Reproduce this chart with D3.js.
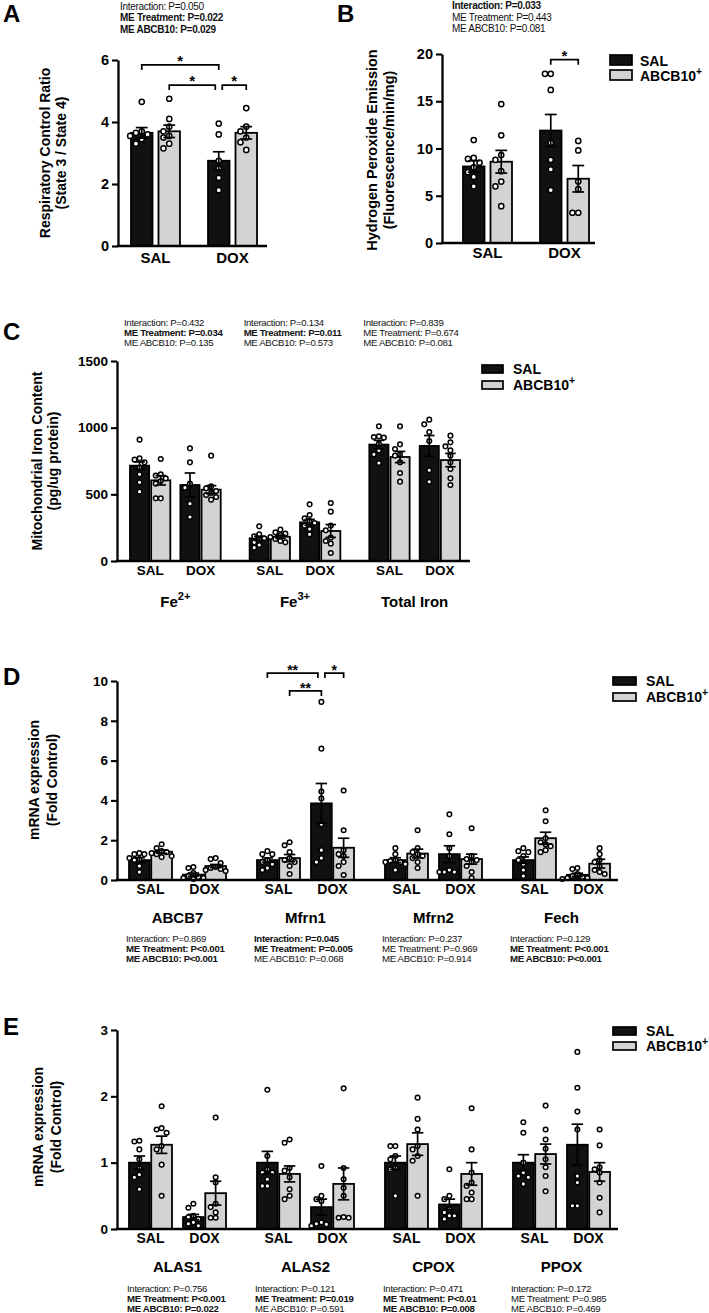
<!DOCTYPE html>
<html><head><meta charset="utf-8">
<script src="https://cdn.jsdelivr.net/npm/d3@7"></script>
<style>
body{margin:0;background:#fff;}
svg{display:block;font-family:"Liberation Sans",Arial,Helvetica,sans-serif;}
</style></head><body>
<svg id="chart" width="709" height="1313"></svg>
<script>
// ===================== DATA =====================
const treatments = ["SAL", "DOX"];
const vectorNames = ["SAL", "ABCB10+"];

// Panel A – Respiratory control ratio  [treatment][vector]
const rcrMean = [[3.65, 3.70], [2.75, 3.65]];
const rcrSem = [[0.17, 0.20], [0.29, 0.20]];
const rcrPoints = [
  [[4.65, 3.7, 3.65, 3.6, 3.55, 3.45, 3.3], [4.75, 4.1, 3.85, 3.7, 3.55, 3.5, 3.3, 3.15]],
  [[3.95, 3.6, 2.75, 2.5, 2.2, 1.8], [4.45, 3.85, 3.7, 3.5, 3.35, 3.1]]
];
const rcrTicks = [0, 2, 4, 6];
const rcrStats = [["Interaction: P=0.050", 0], ["ME Treatment: P=0.022", 1], ["ME ABCB10: P=0.029", 1]];
const rcrBrackets = [
  {from: [0, 0, 0], to: [0, 1, 0], level: 5.84, label: "*"},
  {from: [0, 0, 1], to: [0, 1, 0], level: 5.19, label: "*"},
  {from: [0, 1, 0], to: [0, 1, 1], level: 5.19, label: "*"}
];

// Panel B – Hydrogen peroxide emission
const h2o2Mean = [[8.1, 8.6], [11.9, 6.8]];
const h2o2Sem = [[0.6, 1.2], [1.7, 1.4]];
const h2o2Points = [
  [[10.9, 9.0, 8.9, 8.5, 8.0, 7.5, 7.0, 6.0], [14.7, 11.4, 9.3, 8.8, 7.6, 6.5, 6.0, 3.9]],
  [[17.9, 17.9, 16.2, 10.6, 8.8, 7.8, 5.6], [10.8, 9.8, 6.5, 5.7, 3.2, 3.2]]
];
const h2o2Ticks = [0, 5, 10, 15, 20];
const h2o2Stats = [["Interaction: P=0.033", 1], ["ME Treatment: P=0.443", 0], ["ME ABCB10: P=0.081", 0]];
const h2o2Brackets = [{from: [0, 1, 0], to: [0, 1, 1], level: 19.4, label: "*"}];

// Panel C – Mitochondrial iron content  [form][treatment][vector]
const ironForms = ["Fe2+", "Fe3+", "Total Iron"];
const ironMean = [
  [[715, 605], [570, 535]],
  [[170, 182], [290, 225]],
  [[873, 780], [863, 757]]
];
const ironSem = [
  [[28, 35], [90, 30]],
  [[15, 12], [22, 48]],
  [[32, 42], [78, 50]]
];
const ironPoints = [
  [[[910, 770, 760, 740, 700, 650, 590, 520], [765, 650, 640, 620, 600, 580, 470, 470]],
   [[845, 740, 580, 550, 430, 330], [790, 560, 545, 525, 510, 495, 480, 460]]],
  [[[260, 200, 185, 170, 160, 140, 120, 100], [235, 215, 205, 195, 180, 165, 150, 140]],
   [[425, 345, 320, 300, 285, 265, 240, 200], [435, 370, 265, 230, 175, 150, 130, 60]]],
  [[[1010, 935, 930, 925, 880, 830, 800, 735], [1010, 875, 840, 800, 790, 740, 660, 595]],
   [[1060, 1025, 968, 900, 681, 594], [940, 890, 860, 830, 790, 740, 690, 620, 570]]]
];
const ironTicks = [0, 500, 1000, 1500];
const ironStats = [
  [["Interaction: P=0.432", 0], ["ME Treatment: P=0.034", 1], ["ME ABCB10: P=0.135", 0]],
  [["Interaction: P=0.134", 0], ["ME Treatment: P=0.011", 1], ["ME ABCB10: P=0.573", 0]],
  [["Interaction: P=0.839", 0], ["ME Treatment: P=0.674", 0], ["ME ABCB10: P=0.081", 0]]
];

// Panel D – mRNA expression, iron transport genes
const mrnaGenes = ["ABCB7", "Mfrn1", "Mfrn2", "Fech"];
const mrnaMean = [
  [[1.00, 1.42], [0.27, 0.70]],
  [[1.00, 1.10], [3.85, 1.62]],
  [[1.00, 1.33], [1.30, 1.05]],
  [[1.00, 2.10], [0.26, 0.82]]
];
const mrnaSem = [
  [[0.12, 0.08], [0.08, 0.08]],
  [[0.11, 0.18], [1.00, 0.48]],
  [[0.12, 0.22], [0.42, 0.25]],
  [[0.16, 0.30], [0.08, 0.22]]
];
const mrnaPoints = [
  [[[1.35, 1.3, 1.3, 1.1, 1.05, 1.0, 0.7, 0.4], [1.8, 1.6, 1.45, 1.4, 1.35, 1.3, 1.2, 1.15]],
   [[0.65, 0.6, 0.35, 0.2, 0.15, 0.1, 0.1, 0.05], [1.1, 1.05, 0.85, 0.65, 0.6, 0.55, 0.5, 0.45]]],
  [[[1.45, 1.3, 1.3, 1.0, 0.9, 0.8, 0.6, 0.5], [1.9, 1.75, 1.4, 1.1, 1.0, 0.9, 0.7, 0.3]],
   [[8.95, 6.6, 4.45, 4.1, 2.8, 1.5, 1.1, 0.9], [4.5, 2.5, 1.5, 1.3, 1.2, 0.9, 0.7, 0.25]]],
  [[[1.6, 1.3, 1.0, 0.95, 0.9, 0.9, 0.8, 0.5], [2.5, 1.6, 1.4, 1.3, 1.2, 1.1, 0.9, 0.6]],
   [[3.3, 2.3, 1.6, 1.2, 0.5, 0.4, 0.4, 0.4], [2.6, 1.2, 1.05, 1.0, 0.9, 0.7, 0.4, 0.1]]],
  [[[1.6, 1.45, 1.4, 1.2, 1.0, 0.8, 0.5, 0.2], [3.5, 2.95, 2.1, 1.9, 1.8, 1.7, 1.5, 1.4]],
   [[0.6, 0.55, 0.3, 0.2, 0.15, 0.1, 0.1, 0.05], [1.6, 1.3, 1.0, 0.9, 0.7, 0.5, 0.4, 0.3]]]
];
const mrnaTicks = [0, 2, 4, 6, 8, 10];
const mrnaStats = [
  [["Interaction: P=0.869", 0], ["ME Treatment: P<0.001", 1], ["ME ABCB10: P<0.001", 1]],
  [["Interaction: P=0.045", 1], ["ME Treatment: P=0.005", 1], ["ME ABCB10: P=0.068", 0]],
  [["Interaction: P=0.237", 0], ["ME Treatment: P=0.969", 0], ["ME ABCB10: P=0.914", 0]],
  [["Interaction: P=0.129", 0], ["ME Treatment: P<0.001", 1], ["ME ABCB10: P<0.001", 1]]
];
const mrnaBrackets = [
  {from: [1, 0, 0], to: [1, 1, 0], level: 10.4, label: "**"},
  {from: [1, 0, 1], to: [1, 1, 0], level: 9.5, label: "**"},
  {from: [1, 1, 0], to: [1, 1, 1], level: 10.4, label: "*"}
];

// Panel E – mRNA expression, heme synthesis genes
const hemeGenes = ["ALAS1", "ALAS2", "CPOX", "PPOX"];
const hemeMean = [
  [[1.00, 1.27], [0.18, 0.54]],
  [[1.00, 0.83], [0.33, 0.68]],
  [[1.00, 1.28], [0.37, 0.83]],
  [[1.00, 1.13], [1.27, 0.86]]
];
const hemeSem = [
  [[0.10, 0.13], [0.04, 0.18]],
  [[0.17, 0.12], [0.12, 0.24]],
  [[0.10, 0.17], [0.08, 0.17]],
  [[0.12, 0.15], [0.31, 0.14]]
];
const hemePoints = [
  [[[1.33, 1.32, 1.2, 1.05, 0.92, 0.82, 0.78, 0.6], [1.85, 1.52, 1.5, 1.45, 1.25, 1.2, 0.97, 0.5]],
   [[0.38, 0.32, 0.2, 0.18, 0.15, 0.1, 0.08, 0.05], [1.68, 0.78, 0.7, 0.38, 0.33, 0.25, 0.17, 0.17]]],
  [[[2.1, 1.1, 0.9, 0.85, 0.85, 0.75, 0.65, 0.65], [1.35, 1.3, 0.92, 0.88, 0.78, 0.6, 0.5, 0.45]],
   [[0.95, 0.5, 0.45, 0.42, 0.1, 0.08, 0.07, 0.05], [2.12, 0.92, 0.75, 0.62, 0.5, 0.18, 0.17, 0.17]]],
  [[[1.25, 1.25, 1.1, 1.05, 0.92, 0.9, 0.5], [1.98, 1.66, 1.5, 1.25, 1.2, 1.1, 1.03, 0.5]],
   [[0.9, 0.5, 0.45, 0.3, 0.25, 0.2, 0.2, 0.15], [1.82, 1.2, 0.85, 0.7, 0.65, 0.55, 0.45, 0.45]]],
  [[[1.61, 1.45, 1.0, 0.85, 0.8, 0.78, 0.68], [1.86, 1.5, 1.35, 1.21, 1.05, 0.93, 0.8, 0.57]],
   [[2.67, 2.13, 1.77, 1.5, 0.8, 0.7, 0.35, 0.35], [1.5, 1.26, 0.93, 0.9, 0.85, 0.7, 0.47, 0.25]]]
];
const hemeTicks = [0, 1, 2, 3];
const hemeStats = [
  [["Interaction: P=0.756", 0], ["ME Treatment: P<0.001", 1], ["ME ABCB10: P=0.022", 1]],
  [["Interaction: P=0.121", 0], ["ME Treatment: P=0.019", 1], ["ME ABCB10: P=0.591", 0]],
  [["Interaction: P=0.471", 0], ["ME Treatment: P<0.01", 1], ["ME ABCB10: P=0.008", 1]],
  [["Interaction: P=0.172", 0], ["ME Treatment: P=0.985", 0], ["ME ABCB10: P=0.469", 0]]
];

// ===================== RENDERING =====================
const FONT = '"Liberation Sans", Arial, Helvetica, sans-serif';
const barColors = ["#111111", "#d3d3d3"];
const svg = d3.select("#chart");

function addLabel(g, x, y, txt, size, weight, anchor) {
  const t = g.append("text").attr("x", x).attr("y", y).attr("font-size", size)
    .attr("font-weight", weight || "bold").attr("text-anchor", anchor || "start").attr("fill", "#000");
  const m = txt.match(/^(Fe)(\d\+)$/) || txt.match(/^(ABCB10)(\+)$/);
  if (m) {
    t.append("tspan").text(m[1]);
    t.append("tspan").attr("dy", -size * 0.42).attr("font-size", size * 0.74).text(m[2]);
  } else t.text(txt);
  return t;
}

function statsBlock(g, x, y0, lines, size, lh) {
  lines.forEach((l, i) => {
    g.append("text").attr("x", x).attr("y", y0 + i * lh).attr("font-size", size)
      .attr("font-weight", l[1] ? "bold" : "normal").attr("letter-spacing", -0.3)
      .attr("fill", "#111").text(l[0]);
  });
}

function beeswarm(vals, y, r, step) {
  const placed = [];
  const items = vals.map(v => ({v, py: y(v)})).sort((a, b) => a.py - b.py);
  const cands = [0, -step, step, -2 * step, 2 * step, -3 * step, 3 * step];
  items.forEach(p => {
    let chosen = cands[cands.length - 1];
    for (const c of cands) {
      const ok = placed.every(q => Math.hypot(q.off - c, q.py - p.py) >= 2 * r + 0.4);
      if (ok) { chosen = c; break; }
    }
    p.off = chosen;
    placed.push(p);
  });
  return placed;
}

function legend(g, x, y, rw, rh, gap, tx, size) {
  vectorNames.forEach((name, i) => {
    g.append("rect").attr("x", x).attr("y", y + i * gap).attr("width", rw).attr("height", rh)
      .attr("fill", barColors[i]).attr("stroke", "#000").attr("stroke-width", 1.7);
    addLabel(g, tx, y + i * gap + rh + 1, name, size, "bold", "start");
  });
}

function drawPanel(cfg) {
  const g = svg.append("g").attr("font-family", FONT);
  const y = d3.scaleLinear().domain(cfg.yDomain).range([cfg.y0, cfg.yTop]);
  const xC = d3.scaleBand().domain(cfg.clusters).range(cfg.barRange).paddingInner(cfg.padC);
  const xT = d3.scaleBand().domain(treatments).range([0, xC.bandwidth()]).paddingInner(cfg.padT);
  const xV = d3.scaleBand().domain(vectorNames).range([0, xT.bandwidth()]).paddingInner(cfg.padV);
  const bw = xV.bandwidth();
  const barX = (ci, ti, vi) => xC(cfg.clusters[ci]) + xT(treatments[ti]) + xV(vectorNames[vi]);
  const barC = (k) => barX(k[0], k[1], k[2]) + bw / 2;

  const bars = [];
  cfg.clusters.forEach((c, ci) => treatments.forEach((t, ti) => vectorNames.forEach((v, vi) => {
    bars.push({ci, ti, vi, x: barX(ci, ti, vi), mean: cfg.mean[ci][ti][vi],
      sem: cfg.sem[ci][ti][vi], pts: cfg.points[ci][ti][vi]});
  })));

  g.append("g").selectAll("rect").data(bars).join("rect")
    .attr("x", d => d.x).attr("y", d => y(d.mean)).attr("width", bw)
    .attr("height", d => y(0) - y(d.mean))
    .attr("fill", d => barColors[d.vi]).attr("stroke", "#000").attr("stroke-width", 1.8);

  const r = cfg.r || 2.4;
  bars.forEach(b => {
    const sw = beeswarm(b.pts, y, r, cfg.step || 5.2);
    g.append("g").selectAll("circle").data(sw).join("circle")
      .attr("cx", d => b.x + bw / 2 + d.off).attr("cy", d => d.py).attr("r", r)
      .attr("fill", "#fff").attr("stroke", "#000").attr("stroke-width", 1.5);
  });

  const cw = bw * 0.55;
  const eg = g.append("g").attr("stroke", "#000").attr("stroke-width", 1.7);
  bars.forEach(b => {
    const cx = b.x + bw / 2;
    const hi = y(b.mean + b.sem), lo = y(b.mean - b.sem);
    eg.append("line").attr("x1", cx).attr("x2", cx).attr("y1", hi).attr("y2", lo);
    eg.append("line").attr("x1", cx - cw / 2).attr("x2", cx + cw / 2).attr("y1", hi).attr("y2", hi);
    eg.append("line").attr("x1", cx - cw / 2).attr("x2", cx + cw / 2).attr("y1", lo).attr("y2", lo);
  });

  const ax = g.append("g").attr("transform", `translate(${cfg.axisX},0)`)
    .call(d3.axisLeft(y).tickValues(cfg.ticks).tickFormat(d3.format("d"))
      .tickSize(6).tickSizeOuter(0).tickPadding(3));
  ax.attr("font-family", FONT);
  ax.select(".domain").attr("stroke", "#000").attr("stroke-width", 2.3);
  ax.selectAll(".tick line").attr("stroke", "#000").attr("stroke-width", 2.1);
  ax.selectAll(".tick text").attr("font-size", cfg.tickSize).attr("font-weight", "bold").attr("fill", "#000");
  g.append("line").attr("x1", cfg.axisX - 1.15).attr("x2", cfg.axisEnd)
    .attr("y1", y(0)).attr("y2", y(0)).attr("stroke", "#000").attr("stroke-width", 2.3);

  cfg.clusters.forEach((c, ci) => treatments.forEach(t => {
    g.append("text").attr("x", xC(c) + xT(t) + xT.bandwidth() / 2).attr("y", cfg.treatY)
      .attr("text-anchor", "middle").attr("font-size", cfg.treatSize).attr("font-weight", "bold").text(t);
  }));
  if (cfg.clusterY) cfg.clusters.forEach(c => {
    addLabel(g, xC(c) + xC.bandwidth() / 2, cfg.clusterY, c, cfg.clusterSize, "bold", "middle");
  });
  if (cfg.clusterStats) cfg.clusters.forEach((c, ci) => {
    statsBlock(g, xC(c) + cfg.statsDx, cfg.statsY, cfg.clusterStats[ci], cfg.statsSize, cfg.statsLh);
  });

  cfg.yLabel.forEach((l, i) => {
    g.append("text").attr("transform", `translate(${cfg.yLabelX[i]},${cfg.yLabelY}) rotate(-90)`)
      .attr("text-anchor", "middle").attr("font-size", cfg.yLabelSize).attr("font-weight", "bold").text(l);
  });

  (cfg.brackets || []).forEach(bk => {
    let x1 = barC(bk.from), x2 = barC(bk.to);
    const same = (a, b) => a[0] === b[0] && a[1] === b[1] && a[2] === b[2];
    if (cfg.brackets.some(o => o !== bk && o.level === bk.level && same(o.from, bk.to))) x2 -= 3.5;
    if (cfg.brackets.some(o => o !== bk && o.level === bk.level && same(o.to, bk.from))) x1 += 3.5;
    const by = y(bk.level);
    g.append("path").attr("d", `M${x1},${by + 5}V${by}H${x2}V${by + 5}`)
      .attr("fill", "none").attr("stroke", "#000").attr("stroke-width", 1.7);
    g.append("text").attr("x", (x1 + x2) / 2).attr("y", by + cfg.starDy).attr("text-anchor", "middle")
      .attr("font-size", cfg.starSize).attr("font-weight", "bold").text(bk.label);
  });
  return g;
}

// ---------- Panel A ----------
const gA = drawPanel({
  clusters: ["A"], mean: [rcrMean], sem: [rcrSem], points: [rcrPoints],
  yDomain: [0, 6], y0: 246, yTop: 60, ticks: rcrTicks, tickSize: 14.5,
  axisX: 118, axisEnd: 267, barRange: [131, 257], padC: 0, padT: 0.364, padV: 0.218,
  treatY: 263, treatSize: 15,
  yLabel: ["Respiratory Control Ratio", "(State 3 / State 4)"], yLabelX: [50, 66], yLabelY: 153, yLabelSize: 14,
  brackets: rcrBrackets, starDy: 1, starSize: 15, r: 2.6, step: 5.8
});
statsBlock(gA, 120, 9.5, rcrStats, 10, 11.7);
gA.append("text").attr("x", 3).attr("y", 22).attr("font-size", 24).attr("font-weight", "bold").text("A");

// ---------- Panel B ----------
const gB = drawPanel({
  clusters: ["B"], mean: [h2o2Mean], sem: [h2o2Sem], points: [h2o2Points],
  yDomain: [0, 20], y0: 243, yTop: 54, ticks: h2o2Ticks, tickSize: 14.5,
  axisX: 442, axisEnd: 595, barRange: [463, 589], padC: 0, padT: 0.364, padV: 0.218,
  treatY: 258, treatSize: 15,
  yLabel: ["Hydrogen Peroxide Emission", "(Fluorescence/min/mg)"], yLabelX: [377, 394], yLabelY: 150, yLabelSize: 14.5,
  brackets: h2o2Brackets, starDy: 1, starSize: 15, r: 2.6, step: 5.8
});
statsBlock(gB, 452, 9, h2o2Stats, 10, 11.7);
gB.append("text").attr("x", 337).attr("y", 22).attr("font-size", 24).attr("font-weight", "bold").text("B");
legend(gB, 610, 55, 22, 10, 15, 640, 14);

// ---------- Panel C ----------
const gC = drawPanel({
  clusters: ironForms, mean: ironMean, sem: ironSem, points: ironPoints,
  yDomain: [0, 1500], y0: 561, yTop: 361, ticks: ironTicks, tickSize: 13.5,
  axisX: 117, axisEnd: 470, barRange: [130, 460], padC: 0.242, padT: 0.2, padV: 0.095,
  treatY: 575, treatSize: 13.5, clusterY: 606.5, clusterSize: 15,
  clusterStats: ironStats, statsDx: -6, statsY: 325.5, statsSize: 9.6, statsLh: 10,
  yLabel: ["Mitochondrial Iron Content", "(pg/ug protein)"], yLabelX: [42, 58], yLabelY: 461, yLabelSize: 14,
  r: 2.3, step: 5
});
gC.append("text").attr("x", 3).attr("y", 340).attr("font-size", 24).attr("font-weight", "bold").text("C");
legend(gC, 482, 365, 21, 8, 16, 513, 14);

// ---------- Panel D ----------
const gD = drawPanel({
  clusters: mrnaGenes, mean: mrnaMean, sem: mrnaSem, points: mrnaPoints,
  yDomain: [0, 10], y0: 880, yTop: 681, ticks: mrnaTicks, tickSize: 13.5,
  axisX: 117, axisEnd: 618, barRange: [129, 610], padC: 0.242, padT: 0.204, padV: 0.067,
  treatY: 894, treatSize: 14, clusterY: 922.5, clusterSize: 15,
  clusterStats: mrnaStats, statsDx: -3, statsY: 941.5, statsSize: 9.6, statsLh: 10,
  yLabel: ["mRNA expression", "(Fold Control)"], yLabelX: [39, 57], yLabelY: 780, yLabelSize: 14,
  brackets: mrnaBrackets, starDy: 2, starSize: 14, r: 2.3, step: 5
});
gD.append("text").attr("x", 3).attr("y", 685).attr("font-size", 24).attr("font-weight", "bold").text("D");
legend(gD, 613, 677, 23, 8, 16, 646, 14);

// ---------- Panel E ----------
const gE = drawPanel({
  clusters: hemeGenes, mean: hemeMean, sem: hemeSem, points: hemePoints,
  yDomain: [0, 3], y0: 1229, yTop: 1030, ticks: hemeTicks, tickSize: 13.5,
  axisX: 117, axisEnd: 618, barRange: [129, 610], padC: 0.242, padT: 0.204, padV: 0.067,
  treatY: 1243, treatSize: 14, clusterY: 1271.5, clusterSize: 15,
  clusterStats: hemeStats, statsDx: -2, statsY: 1291.5, statsSize: 9.6, statsLh: 10,
  yLabel: ["mRNA expression", "(Fold Control)"], yLabelX: [43, 61], yLabelY: 1127, yLabelSize: 14,
  r: 2.3, step: 5
});
gE.append("text").attr("x", 3).attr("y", 1035).attr("font-size", 24).attr("font-weight", "bold").text("E");
legend(gE, 613, 1027, 23, 8, 15, 646, 14);
</script>
</body></html>
